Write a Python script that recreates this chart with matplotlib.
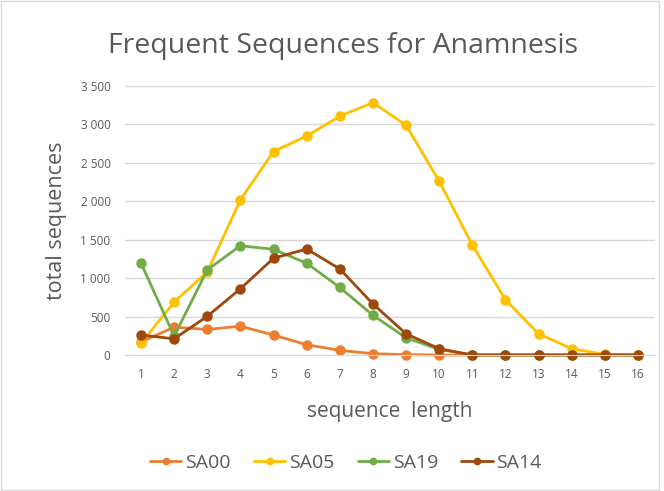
import matplotlib
matplotlib.use("Agg")
import matplotlib.pyplot as plt
from matplotlib.ticker import FuncFormatter
from matplotlib.patches import Rectangle

plt.rcParams['font.family'] = ['Open Sans', 'DejaVu Sans']

lengths = list(range(1, 17))
sa00 = [170, 362, 332, 375, 259, 134, 60, 17, 5, 0, 0, 0, 0, 0, 0, 0]
sa05 = [151, 690, 1080, 2022, 2647, 2849, 3108, 3284, 2990, 2263, 1431, 720, 276, 82, 8, 0]
sa19 = [1194, 246, 1108, 1422, 1375, 1194, 879, 517, 224, 73, 0, 0, 0, 0, 0, 0]
sa14 = [259, 211, 504, 862, 1259, 1379, 1120, 664, 276, 82, 0, 0, 0, 0, 0, 0]
series = [("SA00", sa00, "#ED7D31"), ("SA05", sa05, "#FFC000"),
          ("SA19", sa19, "#70AD47"), ("SA14", sa14, "#9E480E")]
yticks = [0, 500, 1000, 1500, 2000, 2500, 3000, 3500]

W, H = 664, 491
fig = plt.figure(figsize=(W / 100, H / 100), dpi=100)
ax = fig.add_axes([124.5 / W, 1 - 355 / H, 530 / W, 269 / H])

for name, vals, col in series:
    ax.plot(lengths, vals, color=col, lw=2.0, marker='o', markersize=6.5, label=name,
            solid_capstyle='round', clip_on=False)

ax.set_xlim(0.5, 16.5)
ax.set_ylim(0, 3500)
ax.set_yticks(yticks)
ax.yaxis.set_major_formatter(FuncFormatter(lambda v, p: f"{int(v):,}".replace(",", " ")))
ax.set_xticks(lengths)
ax.grid(axis='y', color='#D9D9D9', lw=1)
ax.set_axisbelow(True)
for s in ['top', 'right', 'left']:
    ax.spines[s].set_visible(False)
ax.spines['bottom'].set_color('#D9D9D9')
ax.tick_params(axis='both', length=0, labelsize=8.5, labelcolor='#595959', pad=9)
ax.tick_params(axis='y', pad=10)

ax.set_xlabel("sequence  length", fontsize=15, color='#595959', labelpad=15)
ax.set_ylabel("total sequences", fontsize=15.5, color='#595959', labelpad=10)
fig.text(343.5 / W, 1 - 46 / H, "Frequent Sequences for Anamnesis",
         fontsize=20.5, color='#595959', ha='center', va='center')

leg = fig.legend(loc='center', bbox_to_anchor=(346 / W, 1 - 463 / H), ncol=4, frameon=False,
                 fontsize=14, labelcolor='#595959', handlelength=1.6, columnspacing=1.2,
                 handletextpad=0.2, markerscale=0.7)

fig.patches.append(Rectangle((0.002, 0.002), 0.99, 0.996, transform=fig.transFigure,
                             fill=False, edgecolor='#D9D9D9', lw=1))
fig.savefig("out.png", dpi=100)
